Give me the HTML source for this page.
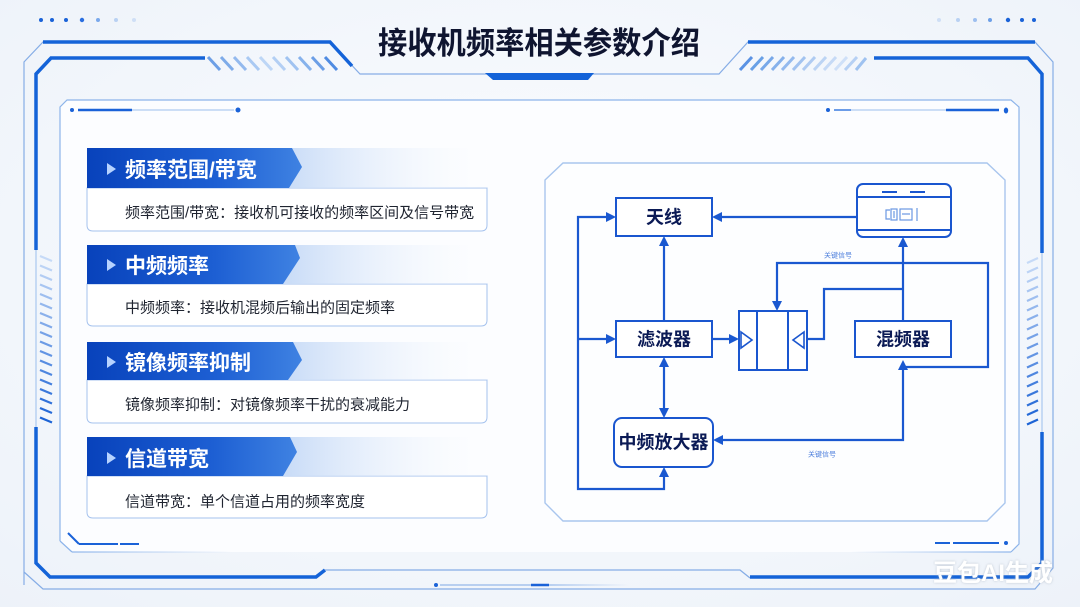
<!DOCTYPE html>
<html><head><meta charset="utf-8">
<style>
html,body{margin:0;padding:0;background:#f3f7fc;}
body{width:1080px;height:607px;overflow:hidden;}
svg{display:block;}
text{font-family:"Liberation Sans","Noto Sans CJK SC",sans-serif;}
</style></head>
<body>
<svg width="1080" height="607" viewBox="0 0 1080 607" xmlns="http://www.w3.org/2000/svg">
<defs>
  <radialGradient id="bg" cx="50%" cy="45%" r="75%">
    <stop offset="0" stop-color="#fbfdff"/>
    <stop offset="1" stop-color="#edf2f9"/>
  </radialGradient>
  <linearGradient id="hdDark" x1="0" y1="0" x2="1" y2="0">
    <stop offset="0" stop-color="#0842bb"/>
    <stop offset="0.6" stop-color="#1d5fd3"/>
    <stop offset="1" stop-color="#3f82e2"/>
  </linearGradient>
  <linearGradient id="hdLight" x1="0" y1="0" x2="1" y2="0">
    <stop offset="0" stop-color="#a3c3f1"/>
    <stop offset="0.5" stop-color="#c9dcf7"/>
    <stop offset="1" stop-color="#ffffff" stop-opacity="0.2"/>
  </linearGradient>
  <linearGradient id="fadeL" x1="0" y1="0" x2="1" y2="0">
    <stop offset="0" stop-color="#8db4ea"/>
    <stop offset="1" stop-color="#8db4ea" stop-opacity="0"/>
  </linearGradient>
  <linearGradient id="fadeR" x1="0" y1="0" x2="1" y2="0">
    <stop offset="0" stop-color="#8db4ea" stop-opacity="0"/>
    <stop offset="1" stop-color="#8db4ea"/>
  </linearGradient>
  <linearGradient id="fadeThin" x1="0" y1="0" x2="1" y2="0">
    <stop offset="0" stop-color="#7fa9e6"/>
    <stop offset="1" stop-color="#7fa9e6" stop-opacity="0"/>
  </linearGradient>
  <filter id="wm" x="-10%" y="-30%" width="120%" height="160%">
    <feDropShadow dx="0" dy="0" stdDeviation="1.2" flood-color="#9aa6b5" flood-opacity="0.6"/>
  </filter>
</defs>

<!-- background -->
<rect x="0" y="0" width="1080" height="607" fill="url(#bg)"/>

<!-- dots top-left -->
<g>
  <circle cx="41" cy="20" r="2" fill="#1a62d8"/>
  <circle cx="52" cy="20" r="2" fill="#1a62d8"/>
  <circle cx="66" cy="20" r="2" fill="#1a62d8"/>
  <circle cx="82" cy="20" r="2.2" fill="#2a6ee0"/>
  <circle cx="98" cy="20" r="2" fill="#7aa8ec"/>
  <circle cx="116" cy="20" r="2" fill="#b9d1f3"/>
  <circle cx="134" cy="20" r="2" fill="#cfdff6"/>
</g>
<!-- dots top-right -->
<g>
  <circle cx="939" cy="20" r="2" fill="#cfdff6"/>
  <circle cx="958" cy="20" r="2" fill="#b9d1f3"/>
  <circle cx="975" cy="20" r="2" fill="#9dbff0"/>
  <circle cx="990" cy="20" r="2" fill="#6d9fe8"/>
  <circle cx="1008" cy="20" r="2.2" fill="#1a62d8"/>
  <circle cx="1022" cy="20" r="2" fill="#1a62d8"/>
  <circle cx="1034" cy="20" r="2" fill="#1a62d8"/>
</g>

<!-- outer thin frame -->
<path d="M24,585 L24,62 L43,42 L330,42 L360,74 L719,74 L748,42 L1035,42 L1053,62 L1053,568 L1035,589 L43,589 L24,572"
      fill="none" stroke="#86ade6" stroke-width="1.2"/>
<!-- thick top lines -->
<path d="M43,42 L330,42 L352,66" fill="none" stroke="#1463d8" stroke-width="3.5"/>
<path d="M748,42 L1035,42" fill="none" stroke="#1463d8" stroke-width="3.5"/>
<!-- title underline accent -->
<polygon points="485,73 594,73 588,80 493,80" fill="#1463d8"/>

<!-- title -->
<text x="378" y="54" font-size="31" font-weight="bold" fill="#0f1530" textLength="322" lengthAdjust="spacingAndGlyphs">接收机频率相关参数介绍</text>

<!-- second thick frame -->
<path d="M205,58 L51,58 L36,74 L36,250" fill="none" stroke="#1463d8" stroke-width="3.5"/>
<path d="M36,427 L36,563 L50,577 L316,577 L325,570" fill="none" stroke="#1463d8" stroke-width="3.5"/>
<path d="M325,570 L740,570 L750,578" fill="none" stroke="#86ade6" stroke-width="1.3"/>
<path d="M750,577 L1028,577 L1042,563 L1042,432" fill="none" stroke="#1463d8" stroke-width="3.5"/>
<path d="M1042,253 L1042,74 L1028,58 L874,58" fill="none" stroke="#1463d8" stroke-width="3.5"/>
<!-- gap thin lines -->
<line x1="36" y1="250" x2="36" y2="427" stroke="#a9c7f0" stroke-width="1.2"/>
<line x1="1042" y1="253" x2="1042" y2="432" stroke="#a9c7f0" stroke-width="1.2"/>

<!-- top-left stripes -->
<g stroke-width="3">
  <line x1="208" y1="57" x2="220" y2="70" stroke="#6d9fe6"/>
  <line x1="221" y1="57" x2="233" y2="70" stroke="#7eabe9"/>
  <line x1="234" y1="57" x2="246" y2="70" stroke="#93b9ee"/>
  <line x1="247" y1="57" x2="259" y2="70" stroke="#a9c9f3"/>
  <line x1="260" y1="57" x2="272" y2="70" stroke="#bdd6f6"/>
  <line x1="273" y1="57" x2="285" y2="70" stroke="#b3cff4"/>
  <line x1="286" y1="57" x2="298" y2="70" stroke="#a0c3f1"/>
  <line x1="299" y1="57" x2="311" y2="70" stroke="#86b2ec"/>
  <line x1="312" y1="57" x2="324" y2="70" stroke="#6b9ee6"/>
  <line x1="325" y1="57" x2="337" y2="70" stroke="#4f8be2"/>
</g>
<!-- top-right stripes -->
<g stroke-width="3">
  <line x1="740" y1="70" x2="752" y2="57" stroke="#5a92e4"/>
  <line x1="751" y1="70" x2="763" y2="57" stroke="#68a0e6"/>
  <line x1="761" y1="70" x2="773" y2="57" stroke="#77a8e9"/>
  <line x1="772" y1="70" x2="784" y2="57" stroke="#86b1eb"/>
  <line x1="782" y1="70" x2="794" y2="57" stroke="#94baee"/>
  <line x1="793" y1="70" x2="805" y2="57" stroke="#a2c3f0"/>
  <line x1="803" y1="70" x2="815" y2="57" stroke="#afcbf2"/>
  <line x1="814" y1="70" x2="826" y2="57" stroke="#bcd4f4"/>
  <line x1="824" y1="70" x2="836" y2="57" stroke="#c6daf6"/>
  <line x1="835" y1="70" x2="847" y2="57" stroke="#cfe0f8"/>
  <line x1="845" y1="70" x2="857" y2="57" stroke="#b6d0f4"/>
  <line x1="856" y1="70" x2="866" y2="58" stroke="#9fc2f0"/>
</g>

<!-- left side stripes -->
<g stroke-width="2.2">
  <line x1="40" y1="256" x2="52" y2="261" stroke="#c6daf7"/>
  <line x1="40" y1="265.5" x2="52" y2="270.5" stroke="#bcd3f5"/>
  <line x1="40" y1="275" x2="52" y2="280" stroke="#b2ccf3"/>
  <line x1="40" y1="284.5" x2="52" y2="289.5" stroke="#a8c5f1"/>
  <line x1="40" y1="294" x2="52" y2="299" stroke="#9ebeef"/>
  <line x1="40" y1="303.5" x2="52" y2="308.5" stroke="#94b7ed"/>
  <line x1="40" y1="313" x2="52" y2="318" stroke="#8ab0eb"/>
  <line x1="40" y1="322.5" x2="52" y2="327.5" stroke="#80a9e9"/>
  <line x1="40" y1="332" x2="52" y2="337" stroke="#76a2e7"/>
  <line x1="40" y1="341.5" x2="52" y2="346.5" stroke="#6c9be5"/>
  <line x1="40" y1="351" x2="52" y2="356" stroke="#6294e3"/>
  <line x1="40" y1="360.5" x2="52" y2="365.5" stroke="#588de1"/>
  <line x1="40" y1="370" x2="52" y2="375" stroke="#4e86df"/>
  <line x1="40" y1="379.5" x2="52" y2="384.5" stroke="#447fdd"/>
  <line x1="40" y1="389" x2="52" y2="394" stroke="#3a78db"/>
  <line x1="40" y1="398.5" x2="52" y2="403.5" stroke="#3071d9"/>
  <line x1="40" y1="408" x2="52" y2="413" stroke="#266ad7"/>
  <line x1="40" y1="417.5" x2="52" y2="422.5" stroke="#1c63d5"/>
</g>
<!-- right side stripes -->
<g stroke-width="2.2">
  <line x1="1027" y1="263" x2="1038" y2="258" stroke="#c6daf7"/>
  <line x1="1027" y1="272.5" x2="1038" y2="267.5" stroke="#bcd3f5"/>
  <line x1="1027" y1="282" x2="1038" y2="277" stroke="#b2ccf3"/>
  <line x1="1027" y1="291.5" x2="1038" y2="286.5" stroke="#a8c5f1"/>
  <line x1="1027" y1="301" x2="1038" y2="296" stroke="#9ebeef"/>
  <line x1="1027" y1="310.5" x2="1038" y2="305.5" stroke="#94b7ed"/>
  <line x1="1027" y1="320" x2="1038" y2="315" stroke="#8ab0eb"/>
  <line x1="1027" y1="329.5" x2="1038" y2="324.5" stroke="#80a9e9"/>
  <line x1="1027" y1="339" x2="1038" y2="334" stroke="#76a2e7"/>
  <line x1="1027" y1="348.5" x2="1038" y2="343.5" stroke="#6c9be5"/>
  <line x1="1027" y1="358" x2="1038" y2="353" stroke="#6294e3"/>
  <line x1="1027" y1="367.5" x2="1038" y2="362.5" stroke="#588de1"/>
  <line x1="1027" y1="377" x2="1038" y2="372" stroke="#4e86df"/>
  <line x1="1027" y1="386.5" x2="1038" y2="381.5" stroke="#447fdd"/>
  <line x1="1027" y1="396" x2="1038" y2="391" stroke="#3a78db"/>
  <line x1="1027" y1="405.5" x2="1038" y2="400.5" stroke="#3071d9"/>
  <line x1="1027" y1="415" x2="1038" y2="410" stroke="#266ad7"/>
  <line x1="1027" y1="424.5" x2="1038" y2="419.5" stroke="#1c63d5"/>
</g>

<!-- inner panel -->
<path d="M60,541 L60,107 L67,100 L1011,100 L1019,107 L1019,544 L1011,552 L72,552 Z" fill="#fcfdff" stroke="none"/>
<path d="M60,541 L60,107 L67,100 L1011,100 L1019,107 L1019,544 L1011,552" fill="none" stroke="#8db4ea" stroke-width="1.2"/>
<path d="M60,541 L72,552" fill="none" stroke="#8db4ea" stroke-width="1.2"/>
<rect x="72" y="551.4" width="160" height="1.2" fill="url(#fadeL)"/>
<rect x="850" y="551.4" width="161" height="1.2" fill="url(#fadeR)"/>

<!-- inner panel deco lines -->
<circle cx="72" cy="110" r="2" fill="#1a62d8"/>
<line x1="78" y1="110" x2="132" y2="110" stroke="#1a62d8" stroke-width="2.5"/>
<line x1="132" y1="110" x2="234" y2="110" stroke="#9cbfee" stroke-width="1"/>
<circle cx="238" cy="110" r="2.5" fill="#1a62d8"/>

<circle cx="828" cy="110" r="2" fill="#1a62d8"/>
<line x1="834" y1="110" x2="851" y2="110" stroke="#3b7de0" stroke-width="1.5"/>
<line x1="851" y1="110" x2="946" y2="110" stroke="#9cbfee" stroke-width="1"/>
<line x1="946" y1="110" x2="999" y2="110" stroke="#1a62d8" stroke-width="2.5"/>
<ellipse cx="1006" cy="110.5" rx="2.2" ry="3" fill="#1a62d8"/>

<line x1="68" y1="533" x2="79" y2="544" stroke="#1a62d8" stroke-width="2"/>
<line x1="79" y1="544" x2="118" y2="544" stroke="#1a62d8" stroke-width="2"/>
<line x1="120" y1="544" x2="139" y2="544" stroke="#1a62d8" stroke-width="2"/>

<line x1="935" y1="543" x2="950" y2="543" stroke="#1a62d8" stroke-width="2"/>
<line x1="953" y1="543" x2="999" y2="543" stroke="#1a62d8" stroke-width="2"/>
<circle cx="1006" cy="543" r="2" fill="#1a62d8"/>

<!-- bottom outer deco -->
<circle cx="436" cy="585" r="2" fill="#1a62d8"/>
<line x1="440" y1="585" x2="531" y2="585" stroke="#7fa9e6" stroke-width="1"/>
<line x1="531" y1="585" x2="549" y2="585" stroke="#1a62d8" stroke-width="2.5"/>
<rect x="549" y="584.5" width="80" height="1" fill="url(#fadeThin)"/>

<!-- ============ CARDS ============ -->
<!-- card 1 -->
<g>
  <path d="M87,188 L487,188 L487,225 Q487,231 481,231 L93,231 Q87,231 87,225 Z" fill="#ffffff" stroke="#a5c2ee" stroke-width="1"/>
  <rect x="87" y="148" width="400" height="40" fill="url(#hdLight)"/>
  <polygon points="87,148 292,148 302,167 289,188 87,188" fill="url(#hdDark)"/>
  <polygon points="107,163 116,169 107,175" fill="#b7d3ff"/>
  <text x="125" y="177" font-size="21" font-weight="bold" fill="#ffffff">频率范围/带宽</text>
  <text x="125" y="217.5" font-size="15" fill="#1f2430">频率范围/带宽：接收机可接收的频率区间及信号带宽</text>
</g>
<!-- card 2 -->
<g>
  <path d="M87,284 L487,284 L487,320 Q487,326 481,326 L93,326 Q87,326 87,320 Z" fill="#ffffff" stroke="#a5c2ee" stroke-width="1"/>
  <rect x="87" y="245" width="400" height="39" fill="url(#hdLight)"/>
  <polygon points="87,245 295,245 300,258 283,284 87,284" fill="url(#hdDark)"/>
  <polygon points="107,259 116,265 107,271" fill="#b7d3ff"/>
  <text x="125" y="273" font-size="21" font-weight="bold" fill="#ffffff">中频频率</text>
  <text x="125" y="312.5" font-size="15" fill="#1f2430">中频频率：接收机混频后输出的固定频率</text>
</g>
<!-- card 3 -->
<g>
  <path d="M87,380 L487,380 L487,417 Q487,423 481,423 L93,423 Q87,423 87,417 Z" fill="#ffffff" stroke="#a5c2ee" stroke-width="1"/>
  <rect x="87" y="342" width="400" height="38" fill="url(#hdLight)"/>
  <polygon points="87,342 293,342 302,360 288,380 87,380" fill="url(#hdDark)"/>
  <polygon points="107,356 116,362 107,368" fill="#b7d3ff"/>
  <text x="125" y="370" font-size="21" font-weight="bold" fill="#ffffff">镜像频率抑制</text>
  <text x="125" y="409.5" font-size="15" fill="#1f2430">镜像频率抑制：对镜像频率干扰的衰减能力</text>
</g>
<!-- card 4 -->
<g>
  <path d="M87,476 L487,476 L487,512 Q487,518 481,518 L93,518 Q87,518 87,512 Z" fill="#ffffff" stroke="#a5c2ee" stroke-width="1"/>
  <rect x="87" y="437" width="400" height="39" fill="url(#hdLight)"/>
  <polygon points="87,437 290,437 297,452 283,476 87,476" fill="url(#hdDark)"/>
  <polygon points="107,452 116,458 107,464" fill="#b7d3ff"/>
  <text x="125" y="466" font-size="21" font-weight="bold" fill="#ffffff">信道带宽</text>
  <text x="125" y="506.5" font-size="15" fill="#1f2430">信道带宽：单个信道占用的频率宽度</text>
</g>

<!-- ============ DIAGRAM ============ -->
<path d="M545,180 L563,163 L987,163 L1005,180 L1005,503 L987,521 L563,521 L545,503 Z" fill="#fdfeff" stroke="#a9c6ee" stroke-width="1.4"/>

<g fill="none" stroke="#1a58d0" stroke-width="2.2">
  <path d="M606,217 L578,217 L578,489 L664,489 L664,477"/>
  <path d="M578,339 L606,339"/>
  <path d="M664,321 L664,246"/>
  <path d="M664,367 L664,408"/>
  <path d="M712,339 L729,339"/>
  <path d="M857,217 L722,217"/>
  <path d="M903,321 L903,247"/>
  <path d="M807,339 L824,339 L824,289 L903,289"/>
  <path d="M777,301 L777,263 L988,263 L988,367 L903,367"/>
  <path d="M903,370 L903,440 L723,440"/>
</g>
<g fill="#1a58d0">
  <polygon points="606,212 616,217 606,222"/>
  <polygon points="606,334 616,339 606,344"/>
  <polygon points="659,246 664,236 669,246"/>
  <polygon points="659,367 664,357 669,367"/>
  <polygon points="659,408 664,418 669,408"/>
  <polygon points="659,477 664,467 669,477"/>
  <polygon points="729,334 739,339 729,344"/>
  <polygon points="722,212 712,217 722,222"/>
  <polygon points="898,247 903,237 908,247"/>
  <polygon points="772,301 777,311 782,301"/>
  <polygon points="898,370 903,360 908,370"/>
  <polygon points="723,435 713,440 723,445"/>
</g>

<!-- nodes -->
<g stroke="#1a56cf" stroke-width="2" fill="#ffffff">
  <rect x="616" y="198" width="96" height="38"/>
  <rect x="616" y="321" width="96" height="36"/>
  <rect x="855" y="321" width="96" height="36"/>
  <rect x="614" y="418" width="99" height="49" rx="8"/>
  <rect x="739" y="311" width="68" height="59"/>
  <line x1="757" y1="311" x2="757" y2="370"/>
  <line x1="788" y1="311" x2="788" y2="370"/>
  <rect x="857" y="184" width="94" height="53" rx="6"/>
  <line x1="857" y1="197" x2="951" y2="197"/>
  <line x1="857" y1="230" x2="951" y2="230"/>
</g>
<g fill="none" stroke="#1a56cf" stroke-width="1.6">
  <polygon points="741,332 752,340 741,348"/>
  <polygon points="804,332 793,340 804,348"/>
</g>
<g stroke="#1a56cf" stroke-width="2">
  <line x1="882" y1="192" x2="897" y2="192"/>
  <line x1="910" y1="192" x2="925" y2="192"/>
</g>
<g fill="none" stroke="#6b98e2" stroke-width="1.2">
  <path d="M890,210 L886,210 L886,219 L890,219"/>
  <rect x="891" y="209" width="6" height="11"/>
  <line x1="894" y1="211" x2="894" y2="218"/>
  <rect x="900" y="209" width="12" height="11"/>
  <line x1="902" y1="214" x2="910" y2="214"/>
  <line x1="917" y1="208" x2="917" y2="221"/>
</g>

<g font-weight="bold" fill="#0b1a55" text-anchor="middle" font-size="18">
  <text x="664" y="223.5">天线</text>
  <text x="664" y="345.5">滤波器</text>
  <text x="903" y="345.5">混频器</text>
  <text x="663.5" y="448.5">中频放大器</text>
</g>
<g fill="#4d7fdc" font-size="7" text-anchor="middle">
  <text x="838" y="257.5">关键信号</text>
  <text x="822" y="456.5">关键信号</text>
</g>

<!-- watermark -->
<text x="933" y="581" font-size="24" font-weight="bold" fill="#ffffff" filter="url(#wm)">豆包AI生成</text>
</svg>
</body></html>
